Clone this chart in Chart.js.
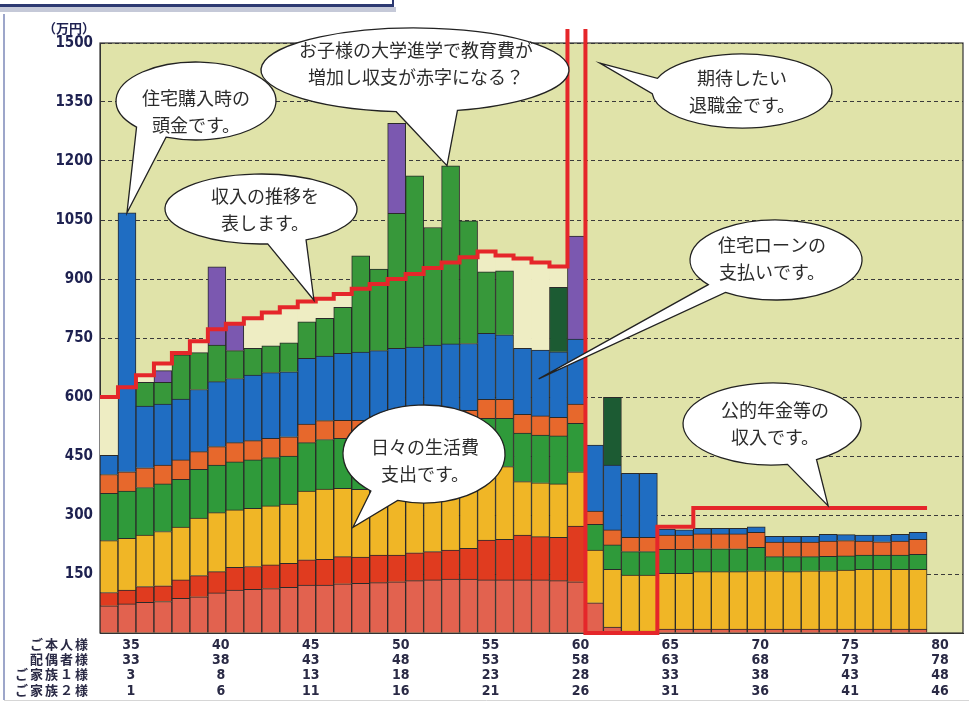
<!DOCTYPE html>
<html>
<head>
<meta charset="utf-8">
<script src="https://cdn.jsdelivr.net/npm/chart.js@4.4.0/dist/chart.umd.min.js"></script>
<style>
  html, body { margin: 0; padding: 0; background: #fff; }
  #wrap { width: 969px; height: 708px; }
</style>
</head>
<body>
<div id="wrap"><canvas id="myChart" width="969" height="708"></canvas></div>
<script>
// 年齢（ご本人様）: 34歳〜81歳の48列
const ages = [34, 35, 36, 37, 38, 39, 40, 41, 42, 43, 44, 45, 46, 47, 48, 49,
  50, 51, 52, 53, 54, 55, 56, 57, 58, 59, 60, 61, 62, 63, 64, 65,
  66, 67, 68, 69, 70, 71, 72, 73, 74, 75, 76, 77, 78, 79, 80, 81];

// 目盛ラベル（4段）
const selfAgeTicks = ["35", "40", "45", "50", "55", "60", "65", "70", "75", "80"];
const spouseAgeTicks = ["33", "38", "43", "48", "53", "58", "63", "68", "73", "78"];
const child1AgeTicks = ["3", "8", "13", "18", "23", "28", "33", "38", "43", "48"];
const child2AgeTicks = ["1", "6", "11", "16", "21", "26", "31", "36", "41", "46"];
const rowNames = ["ご本人様", "配偶者様", "ご家族１様", "ご家族２様"];

// 支出の内訳（万円）下から順に積み上げ
const costSalmon = [69, 74, 78, 80, 88, 92, 102, 109, 111, 113, 116, 122, 122, 125, 126, 128,
  130, 133, 135, 137, 137, 135, 135, 135, 135, 133, 130, 77, 15, 5, 5, 10,
  10, 10, 10, 10, 10, 10, 10, 10, 10, 10, 10, 10, 10, 10, 0, 0];
const costRed = [34, 35, 40, 40, 47, 54, 54, 58, 58, 60, 61, 64, 65, 69, 67, 70,
  68, 71, 72, 74, 78, 101, 103, 114, 110, 110, 142, 0, 0, 0, 0, 0,
  0, 0, 0, 0, 0, 0, 0, 0, 0, 0, 0, 0, 0, 0, 0, 0];
const costYellow = [132, 132, 131, 138, 134, 146, 150, 146, 148, 150, 151, 175, 179, 174, 172, 175,
  175, 175, 175, 175, 175, 187, 185, 136, 137, 136, 138, 134, 147, 142, 142, 142,
  142, 146, 146, 146, 148, 148, 146, 148, 148, 150, 152, 152, 152, 152, 0, 0];
const costGreen = [120, 120, 121, 121, 122, 124, 121, 122, 123, 123, 122, 123, 126, 127, 128, 128,
  128, 128, 128, 128, 128, 123, 123, 123, 121, 122, 123, 65, 62, 60, 60, 61,
  61, 58, 58, 58, 60, 36, 38, 36, 37, 36, 36, 36, 36, 38, 0, 0];
const costOrange = [48, 49, 50, 48, 49, 45, 47, 49, 49, 49, 49, 47, 48, 46, 48, 48,
  48, 48, 48, 48, 48, 48, 48, 48, 49, 47, 49, 34, 38, 36, 36, 36,
  36, 38, 38, 38, 38, 37, 37, 37, 39, 39, 36, 34, 36, 38, 0, 0];
const costHousing = [49, 658, 157, 155, 155, 158, 165, 163, 167, 167, 165, 167, 164, 170, 173, 169,
  175, 172, 174, 173, 170, 168, 164, 168, 167, 167, 165, 168, 165, 163, 163, 15,
  13, 14, 14, 14, 14, 15, 15, 15, 17, 15, 15, 17, 17, 18, 0, 0];
const costEducation = [0, 0, 60, 55, 112, 94, 93, 71, 68, 68, 74, 93, 96, 117, 245, 207,
  343, 435, 299, 453, 312, 156, 163, 0, 0, 0, 0, 0, 0, 0, 0, 0,
  0, 0, 0, 0, 0, 0, 0, 0, 0, 0, 0, 0, 0, 0, 0, 0];
const costEvent = [0, 0, 0, 30, 0, 0, 199, 69, 0, 0, 0, 0, 0, 0, 0, 0,
  229, 0, 0, 0, 0, 0, 0, 0, 0, 0, 262, 0, 0, 0, 0, 0,
  0, 0, 0, 0, 0, 0, 0, 0, 0, 0, 0, 0, 0, 0, 0, 0];
const costCar = [0, 0, 0, 0, 0, 0, 0, 0, 0, 0, 0, 0, 0, 0, 0, 0,
  0, 0, 0, 0, 0, 0, 0, 0, 0, 164, 0, 0, 172, 0, 0, 0,
  0, 0, 0, 0, 0, 0, 0, 0, 0, 0, 0, 0, 0, 0, 0, 0];
const surplus = [148, 0, 18, 18, 5, 29, 0, 0, 76, 85, 90, 52, 50, 34, 0, 0,
  0, 0, 0, 0, 0, 52, 39, 228, 223, 53, 0, 0, 0, 0, 0, 0,
  0, 0, 0, 0, 0, 0, 0, 0, 0, 0, 0, 0, 0, 0, 0, 0];

// 収入（万円）60歳は退職金で目盛の外
const income = [600, 625, 655, 685, 712, 742, 772, 786, 800, 815, 828, 843, 850, 862, 875, 887,
  900, 913, 928, 942, 955, 970, 960, 952, 942, 932, 2500, 0, 0, 0, 0, 270,
  270, 318, 318, 318, 318, 318, 318, 318, 318, 318, 318, 318, 318, 318, null, null];

const yTicks = [150, 300, 450, 600, 750, 900, 1050, 1200, 1350, 1500];

// 吹き出し
const bubbles = [
  { lines: ["住宅購入時の", "頭金です。"], cx: 196, cy: 101, rx: 80, ry: 39, tx: 196, ty: 98, tip: [1.5, 1068], a1: 112, a2: 138 },
  { lines: ["お子様の大学進学で教育費が", "増加し収支が赤字になる？"], cx: 415, cy: 70, rx: 154, ry: 42, tx: 416, ty: 50, tip: [19.3, 1188], a1: 74, a2: 97 },
  { lines: ["期待したい", "退職金です。"], cx: 742, cy: 91, rx: 90, ry: 37, tx: 742, ty: 78, tip: [27.8, 1449], a1: 176, a2: 200 },
  { lines: ["収入の推移を", "表します。"], cx: 261, cy: 209, rx: 96, ry: 35, tx: 265, ty: 196, tip: [11.9, 846], a1: 62, a2: 86 },
  { lines: ["住宅ローンの", "支払いです。"], cx: 776, cy: 260, rx: 86, ry: 40, tx: 772, ty: 245, tip: [24.4, 646], a1: 126, a2: 142 },
  { lines: ["日々の生活費", "支出です。"], cx: 424, cy: 454, rx: 81, ry: 49, tx: 425, ty: 447, tip: [14.07, 269], a1: 109, a2: 131 },
  { lines: ["公的年金等の", "収入です。"], cx: 772, cy: 424, rx: 89, ry: 41, tx: 775, ty: 410, tip: [40.5, 323], a1: 60, a2: 80 }
];

const numFont = "'Liberation Sans Narrow', 'DejaVu Sans Condensed', 'Arial Narrow', sans-serif";
const jpFont = "'Noto Sans CJK JP', sans-serif";

const barSeries = [
  ["基本生活費", costSalmon, "#e2624f"],
  ["食費", costRed, "#e03b1f"],
  ["その他生活費", costYellow, "#f0b626"],
  ["保険料", costGreen, "#2f9a3a"],
  ["税金等", costOrange, "#e7682c"],
  ["住居費", costHousing, "#1f6dc2"],
  ["教育費", costEducation, "#37983a"],
  ["イベント費", costEvent, "#7b58b0"],
  ["車両費", costCar, "#1c5b33"]
];

const datasets = barSeries.map(([label, data, color]) => ({
  type: "bar",
  label,
  data: data.map((v) => v || null),
  backgroundColor: color,
  borderColor: "#2a2a2a",
  borderWidth: 1,
  grouped: false,
  stack: "cost",
  order: 1,
  xAxisID: "x",
  yAxisID: "y"
}));

datasets.push({
  type: "bar",
  label: "貯蓄",
  data: surplus.map((v) => v || null),
  backgroundColor: "#eeedc3",
  borderWidth: 0,
  grouped: false,
  stack: "cost",
  order: 1,
  xAxisID: "x",
  yAxisID: "y"
});

// 収入の階段線：各列の左端と右端に同じ値の点
const incomePoints = [];
income.forEach((v, i) => {
  if (v != null) {
    incomePoints.push({ x: i, y: v }, { x: i + 1, y: v });
  }
});

datasets.unshift({
  type: "line",
  label: "収入",
  data: incomePoints,
  xAxisID: "xl",
  yAxisID: "y",
  stack: "income",
  borderColor: "#e5262a",
  borderWidth: 4,
  borderJoinStyle: "miter",
  pointRadius: 0,
  tension: 0,
  order: 0,
  clip: { left: 2, top: 14, right: 2, bottom: 4 }
});

const decorPlugin = {
  id: "decor",
  beforeDraw(chart) {
    const { ctx, chartArea: a } = chart;
    ctx.save();
    ctx.fillStyle = "#fff";
    ctx.fillRect(0, 0, chart.width, chart.height);
    // 枠
    ctx.fillStyle = "#c5c9d8";
    ctx.fillRect(0, 7, 396, 5);
    ctx.fillStyle = "#2d3a72";
    ctx.fillRect(0, 4, 394, 3);
    ctx.fillRect(392, 0, 2, 7);
    ctx.strokeStyle = "#7d88b8";
    ctx.lineWidth = 1.5;
    ctx.beginPath();
    ctx.moveTo(4, 14);
    ctx.lineTo(4, 700);
    ctx.stroke();
    ctx.strokeStyle = "#d6d6d6";
    ctx.lineWidth = 1;
    ctx.beginPath();
    ctx.moveTo(4, 700.5);
    ctx.lineTo(969, 700.5);
    ctx.stroke();
    // 背景
    ctx.fillStyle = "#e0e3a9";
    ctx.fillRect(a.left, a.top, a.right - a.left, a.bottom - a.top);
    ctx.restore();
  },
  beforeDatasetsDraw(chart) {
    const { ctx, chartArea: a } = chart;
    ctx.save();
    ctx.strokeStyle = "#333";
    ctx.lineWidth = 1.2;
    ctx.strokeRect(a.left, a.top, a.right - a.left, a.bottom - a.top);
    ctx.restore();
  },
  afterDraw(chart) {
    const { ctx } = chart;
    const xs = chart.scales.x;
    const xl = chart.scales.xl;
    const ys = chart.scales.y;
    ctx.save();
    // 単位
    ctx.fillStyle = "#1e2150";
    ctx.font = "bold 13px " + jpFont;
    ctx.textAlign = "right";
    ctx.textBaseline = "middle";
    ctx.fillText("（万円）", 95, 28);
    // 行見出し
    ctx.fillStyle = "#2a2a45";
    ctx.font = "bold 13px " + jpFont;
    ctx.letterSpacing = "2px";
    rowNames.forEach((name, k) => {
      ctx.fillText(name, 90, xs.top + 2 + 15.34 * (k + 0.5) + 1);
    });
    ctx.letterSpacing = "0px";
    // 吹き出し
    bubbles.forEach((b) => {
      const tx = xl.getPixelForValue(b.tip[0]);
      const ty = ys.getPixelForValue(b.tip[1]);
      const r1 = (b.a1 * Math.PI) / 180;
      const r2 = (b.a2 * Math.PI) / 180;
      ctx.beginPath();
      ctx.ellipse(b.cx, b.cy, b.rx, b.ry, 0, r2, r1 + Math.PI * 2, false);
      ctx.lineTo(tx, ty);
      ctx.closePath();
      ctx.fillStyle = "#ffffff";
      ctx.fill();
      ctx.strokeStyle = "#222";
      ctx.lineWidth = 1.3;
      ctx.stroke();
      ctx.fillStyle = "#2b2b2b";
      ctx.font = "18px " + jpFont;
      ctx.textAlign = "center";
      ctx.textBaseline = "middle";
      b.lines.forEach((t, k) => ctx.fillText(t, b.tx, b.ty + k * 27));
    });
    ctx.restore();
  }
};

new Chart(document.getElementById("myChart"), {
  type: "bar",
  data: { labels: ages.map(String), datasets },
  options: {
    responsive: false,
    animation: false,
    devicePixelRatio: 1,
    layout: { padding: { top: 43, right: 6, left: 0, bottom: 0 } },
    datasets: { bar: { barPercentage: 1, categoryPercentage: 1 } },
    plugins: { legend: { display: false }, tooltip: { enabled: false } },
    scales: {
      x: {
        type: "category",
        stacked: true,
        offset: true,
        grid: { display: false },
        border: { display: true, color: "#333", width: 1 },
        ticks: {
          autoSkip: false,
          maxRotation: 0,
          minRotation: 0,
          padding: -3,
          labelOffset: 4,
          color: "#2a2a45",
          font: { family: numFont, size: 14, weight: "bold", lineHeight: 1.08 },
          callback: (val, idx) => {
            const k = selfAgeTicks.indexOf(String(ages[idx]));
            if (k < 0) return "";
            return [selfAgeTicks[k], spouseAgeTicks[k], child1AgeTicks[k], child2AgeTicks[k]];
          }
        },
        afterFit: (s) => { s.height = 75; }
      },
      xl: { type: "linear", min: 0, max: 48, offset: false, display: false },
      y: {
        type: "linear",
        stacked: true,
        min: 0,
        max: 1500,
        z: 1,
        afterBuildTicks: (s) => { s.ticks = [0].concat(yTicks).map((v) => ({ value: v })); },
        ticks: {
          padding: 7,
          color: "#1e2150",
          font: { family: numFont, size: 15, weight: "bold" },
          callback: (v) => (v === 0 ? "" : String(v))
        },
        grid: { color: "#3a3a3a", lineWidth: 1, drawTicks: false },
        border: { display: true, color: "#333", width: 1, dash: [4, 3] },
        afterFit: (s) => { s.width = 100; }
      }
    }
  },
  plugins: [decorPlugin]
});
</script>
</body>
</html>
